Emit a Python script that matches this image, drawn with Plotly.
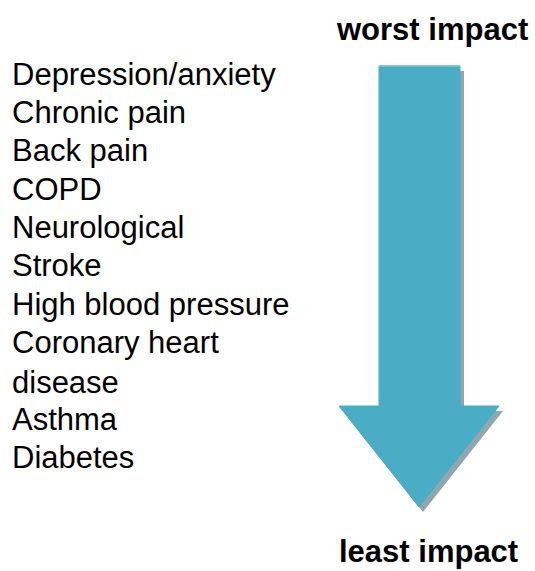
import plotly.graph_objects as go

# Conditions ordered from worst to least impact
conditions = ["Depression/anxiety", "Chronic pain", "Back pain", "COPD", "Neurological",
              "Stroke", "High blood pressure", "Coronary heart<br>disease", "Asthma", "Diabetes"]
top_label = "worst impact"
bottom_label = "least impact"

W, H = 535, 571
FONT = "Liberation Sans, Arial, sans-serif"
FS = 31
LINE = 38.3
FIRST = 74

fig = go.Figure()

# Arrow (in pixel-like axis units)
shaft_l, shaft_r, shaft_top, shaft_bot = 379, 460, 66, 406
head_l, head_r, tip_x, tip_y = 339, 499, 419, 507

def arrow_path(dx=0, dy=0):
    pts = [(shaft_l, shaft_top), (shaft_r, shaft_top), (shaft_r, shaft_bot), (head_r, shaft_bot),
           (tip_x, tip_y), (head_l, shaft_bot), (shaft_l, shaft_bot)]
    return "M " + " L ".join(f"{x+dx},{y+dy}" for x, y in pts) + " Z"

fig.add_shape(type="path", path=arrow_path(4, 5), xref="x", yref="y",
              fillcolor="#8fa8b0", line=dict(width=0), layer="below")
fig.add_shape(type="path", path=arrow_path(), xref="x", yref="y",
              fillcolor="#4bacc6", line=dict(width=1, color="#4bacc6"), layer="below")
fig.add_shape(type="line", x0=shaft_l, x1=shaft_r, y0=shaft_top, y1=shaft_top, xref="x", yref="y",
              line=dict(width=1.5, color="#7fc3d6"))

# Condition labels
line_idx = 0
for c in conditions:
    n = c.count("<br>") + 1
    y_top = FIRST + LINE * line_idx - LINE / 2
    fig.add_annotation(x=10, y=y_top, xref="x", yref="y", text=c, showarrow=False,
                       xanchor="left", yanchor="top", align="left",
                       font=dict(family=FONT, size=FS, color="#000000"))
    line_idx += n

fig.add_annotation(x=432, y=29, xref="x", yref="y", text=f"<b>{top_label}</b>", showarrow=False,
                   xanchor="center", yanchor="middle", font=dict(family=FONT, size=FS, color="#000"))
fig.add_annotation(x=428, y=551, xref="x", yref="y", text=f"<b>{bottom_label}</b>", showarrow=False,
                   xanchor="center", yanchor="middle", font=dict(family=FONT, size=FS, color="#000"))

fig.update_xaxes(range=[0, W], visible=False, fixedrange=True)
fig.update_yaxes(range=[H, 0], visible=False, fixedrange=True)
fig.update_layout(width=W, height=H, margin=dict(l=0, r=0, t=0, b=0),
                  paper_bgcolor="white", plot_bgcolor="white", showlegend=False)

fig.write_html("out.html", config={"displayModeBar": False},
               post_script="document.body.style.margin='0';document.body.style.overflow='hidden';")
